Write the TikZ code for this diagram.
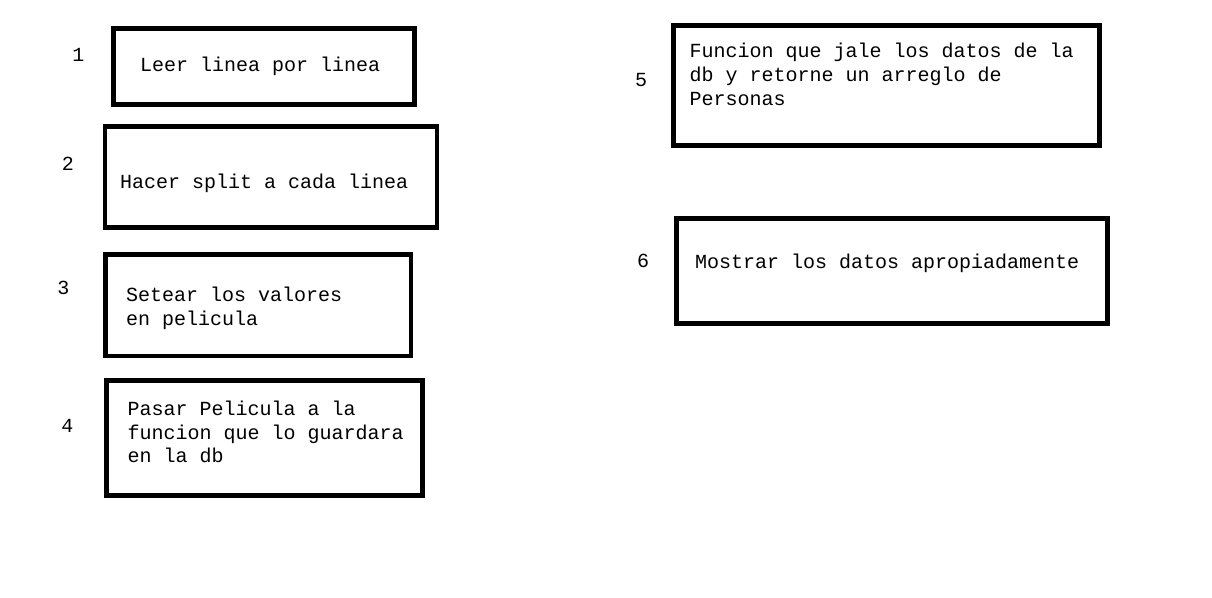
\documentclass[tikz,border=0pt]{standalone}
\usepackage{fontspec}
\setmonofont{Liberation Mono}
\begin{document}
\begin{tikzpicture}[x=1pt,y=-1pt,
  box/.style={draw=black,line width=4.5pt,rectangle,inner sep=0pt,outer sep=0pt},
  txt/.style={anchor=base west,inner sep=0pt,font=\ttfamily\fontsize{20}{24}\selectfont},
  num/.style={anchor=base,inner sep=0pt,font=\ttfamily\fontsize{20}{24}\selectfont}]
\useasboundingbox[fill=white] (0,0) rectangle (1212,597);
% boxes
\node[box,minimum width=301pt,minimum height=76pt] (b1) at (264,66.5) {};
\node[box,minimum width=332pt,minimum height=101pt] (b2) at (271,177.2) {};
\node[box,minimum width=305.4pt,minimum height=101.3pt] (b3) at (258.3,305.3) {};
\node[box,minimum width=316pt,minimum height=114.6pt] (b4) at (264.5,438) {};
\node[box,minimum width=426.4pt,minimum height=119.6pt] (b5) at (886.5,85.5) {};
\node[box,minimum width=431.4pt,minimum height=105pt] (b6) at (892,270.8) {};
% numbers
\node[num] (n1) at (78.5,61.7) {1};
\node[num] (n2) at (68,170.7) {2};
\node[num] (n3) at (63.5,294) {3};
\node[num] (n4) at (67.5,432.7) {4};
\node[num] (n5) at (641,86.7) {5};
\node[num] (n6) at (643,267.3) {6};
% texts
\node[txt] (t1) at (140,71.7) {Leer linea por linea};
\node[txt] (t2) at (120,188.3) {Hacer split a cada linea};
\node[txt] (t3a) at (126,301.7) {Setear los valores};
\node[txt] (t3b) at (126,325.7) {en pelicula};
\node[txt] (t4a) at (127.5,415) {Pasar Pelicula a la};
\node[txt] (t4b) at (127.5,439) {funcion que lo guardara};
\node[txt] (t4c) at (127.5,462.3) {en la db};
\node[txt] (t5a) at (689.5,57.3) {Funcion que jale los datos de la};
\node[txt] (t5b) at (689.5,81.7) {db y retorne un arreglo de};
\node[txt] (t5c) at (689.5,105) {Personas};
\node[txt] (t6) at (695,268.3) {Mostrar los datos apropiadamente};
\end{tikzpicture}
\end{document}
